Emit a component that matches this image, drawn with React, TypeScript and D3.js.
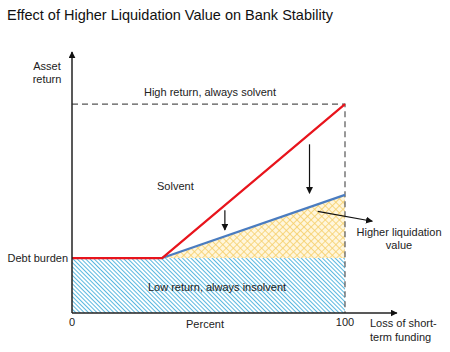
import React, { useEffect, useRef } from "react";
import * as d3 from "d3";

// x: loss of short-term funding (percent), y: asset return (arbitrary units)
const xTicks = [
  { value: 0, label: "0" },
  { value: 100, label: "100" },
];
const debtBurden = 1;
const highReturn = 3.8;
const kinkX = 33;
const redLine: [number, number][] = [
  [0, debtBurden],
  [kinkX, debtBurden],
  [100, highReturn],
];
const blueLine: [number, number][] = [
  [kinkX, debtBurden],
  [100, 2.15],
];
const arrows: { from: [number, number]; to: [number, number] }[] = [
  { from: [56, 1.87], to: [56, 1.51] },
  { from: [87, 3.07], to: [87, 2.18] },
  { from: [90, 1.85], to: [110, 1.67] },
];

const W = 450;
const H = 352;

export default function App() {
  const svgRef = useRef<SVGSVGElement>(null);

  useEffect(() => {
    document.body.style.margin = "0";
    const svg = d3.select(svgRef.current);
    svg.selectAll("*").remove();
    const font = "'Liberation Sans', Arial, sans-serif";

    const x = d3.scaleLinear().domain([0, 100]).range([72, 345]);
    const y = d3.scaleLinear().domain([0, 4.75]).range([313, 52]);

    const defs = svg.append("defs");
    // arrow head
    defs.append("marker")
      .attr("id", "arr")
      .attr("viewBox", "0 0 10 10")
      .attr("refX", 9)
      .attr("refY", 5)
      .attr("markerWidth", 7)
      .attr("markerHeight", 7)
      .attr("markerUnits", "userSpaceOnUse")
      .attr("orient", "auto")
      .append("path")
      .attr("d", "M0,0 L10,5 L0,10 z")
      .attr("fill", "#111");

    // blue diagonal hatching
    const pBlue = defs.append("pattern")
      .attr("id", "hatchBlue")
      .attr("patternUnits", "userSpaceOnUse")
      .attr("width", 3)
      .attr("height", 3)
      .attr("patternTransform", "rotate(-45)");
    pBlue.append("rect").attr("width", 3).attr("height", 3).attr("fill", "#ffffff");
    pBlue.append("line")
      .attr("x1", 0).attr("y1", 0).attr("x2", 0).attr("y2", 3)
      .attr("stroke", "#5ab8e0").attr("stroke-width", 2);

    // yellow cross hatching
    const pYel = defs.append("pattern")
      .attr("id", "hatchYel")
      .attr("patternUnits", "userSpaceOnUse")
      .attr("width", 5)
      .attr("height", 5)
      .attr("patternTransform", "rotate(45)");
    pYel.append("rect").attr("width", 5).attr("height", 5).attr("fill", "#fff6dc");
    pYel.append("line")
      .attr("x1", 0).attr("y1", 0).attr("x2", 0).attr("y2", 5)
      .attr("stroke", "#f6cf6a").attr("stroke-width", 1.6);
    pYel.append("line")
      .attr("x1", 0).attr("y1", 0).attr("x2", 5).attr("y2", 0)
      .attr("stroke", "#f6cf6a").attr("stroke-width", 1.6);

    // title
    svg.append("text")
      .attr("x", 7)
      .attr("y", 20)
      .attr("font-family", font)
      .attr("font-size", 14.5)
      .attr("fill", "#111")
      .text("Effect of Higher Liquidation Value on Bank Stability");

    // areas
    svg.append("rect")
      .attr("x", x(0))
      .attr("y", y(debtBurden))
      .attr("width", x(100) - x(0))
      .attr("height", y(0) - y(debtBurden))
      .attr("fill", "url(#hatchBlue)");

    const area = d3.area<[number, number]>()
      .x(d => x(d[0]))
      .y0(y(debtBurden))
      .y1(d => y(d[1]));
    svg.append("path")
      .datum(blueLine)
      .attr("d", area)
      .attr("fill", "url(#hatchYel)");

    // dashed guides
    svg.append("path")
      .attr("d", `M${x(0)},${y(highReturn)} H${x(100)} V${y(0)}`)
      .attr("fill", "none")
      .attr("stroke", "#555")
      .attr("stroke-width", 1.2)
      .attr("stroke-dasharray", "6,4");

    const line = d3.line<[number, number]>().x(d => x(d[0])).y(d => y(d[1]));
    svg.append("path")
      .datum(blueLine)
      .attr("d", line)
      .attr("fill", "none")
      .attr("stroke", "#4a7cc0")
      .attr("stroke-width", 2.2);
    svg.append("path")
      .datum(redLine)
      .attr("d", line)
      .attr("fill", "none")
      .attr("stroke", "#e8141c")
      .attr("stroke-width", 2.2);

    // axes
    svg.append("line")
      .attr("x1", x(0)).attr("y1", y(0)).attr("x2", x(0)).attr("y2", y(4.75))
      .attr("stroke", "#222").attr("stroke-width", 1.5)
      .attr("marker-end", "url(#arr)");
    svg.append("line")
      .attr("x1", x(0)).attr("y1", y(0)).attr("x2", x(119)).attr("y2", y(0))
      .attr("stroke", "#222").attr("stroke-width", 1.5)
      .attr("marker-end", "url(#arr)");

    // annotation arrows
    arrows.forEach(a => {
      svg.append("line")
        .attr("x1", x(a.from[0])).attr("y1", y(a.from[1]))
        .attr("x2", x(a.to[0])).attr("y2", y(a.to[1]))
        .attr("stroke", "#111").attr("stroke-width", 1.2)
        .attr("marker-end", "url(#arr)");
    });

    const label = (tx: number, ty: number, s: string, anchor = "start") =>
      svg.append("text")
        .attr("x", tx)
        .attr("y", ty)
        .attr("text-anchor", anchor)
        .attr("font-family", font)
        .attr("font-size", 11)
        .attr("fill", "#222")
        .text(s);

    xTicks.forEach(t => label(x(t.value), 326, t.label, "middle"));
    label(47, 70, "Asset", "middle");
    label(47, 83, "return", "middle");
    label(68, 262, "Debt burden", "end");
    label(210, 96, "High return, always solvent", "middle");
    label(157, 190, "Solvent");
    label(217, 291, "Low return, always insolvent", "middle");
    label(205, 328, "Percent", "middle");
    label(370, 327, "Loss of short-");
    label(370, 341, "term funding");
    label(399, 236, "Higher liquidation", "middle");
    label(399, 249, "value", "middle");
  }, []);

  return <svg ref={svgRef} width={W} height={H} style={{ display: "block", background: "#fff" }} />;
}
